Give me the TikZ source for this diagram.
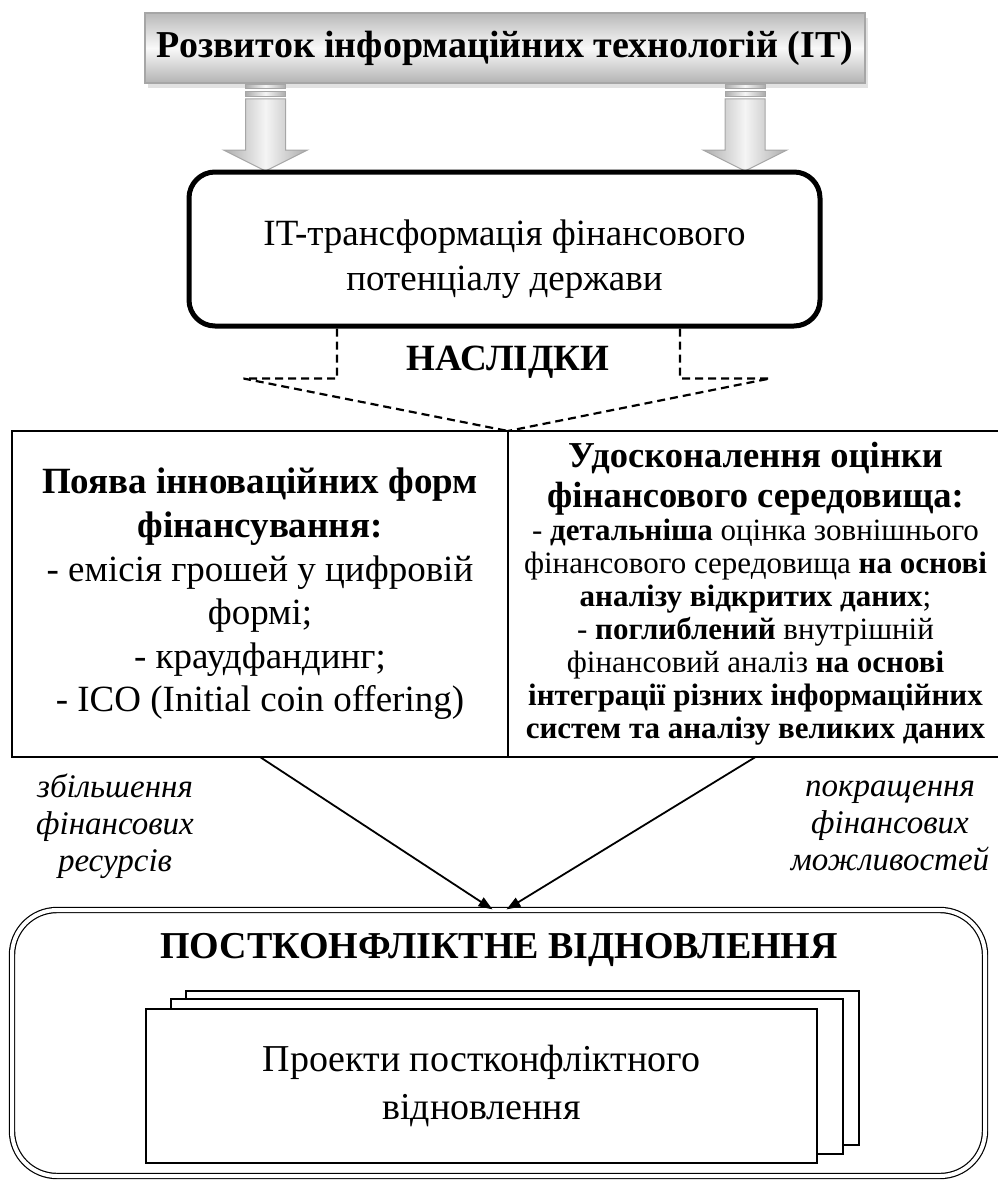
\documentclass[tikz,border=0pt]{standalone}
\usepackage{fontspec}
\setmainfont{Liberation Serif}
\usepackage{tikz}
\usetikzlibrary{positioning}
\usetikzlibrary{shadows}
\usetikzlibrary{arrows.meta}

\begin{document}
\begin{tikzpicture}[x=1pt, y=-1pt,
	titlebox/.style={draw=gray!70, line width=1.5pt, top color=gray!55, bottom color=gray!60, middle color=gray!5,
		drop shadow={shadow xshift=3pt, shadow yshift=-5pt, fill=gray!45},
		minimum width=720pt, minimum height=70pt, font=\bfseries\fontsize{38}{44}\selectfont},
	blockarrow/.style={draw=gray!70, line width=1pt, left color=gray!65, right color=gray!65, middle color=gray!8},
	itbox/.style={draw, line width=5pt, rounded corners=26pt, minimum width=631pt, minimum height=154pt},
	dashline/.style={line width=2.2pt, dash pattern=on 8pt off 5pt},
	cell/.style={line width=2.3pt, inner sep=0pt, outer sep=0pt, minimum height=326pt, align=flush center},
	sidenote/.style={align=center, font=\itshape\fontsize{33}{37}\selectfont},
	link/.style={line width=1.8pt, -{Triangle[length=14pt,width=10pt]}},
	recbox/.style={draw, line width=1.2pt, double, double distance=4pt, rounded corners=45pt,
		minimum width=973pt, minimum height=266pt},
	sheet/.style={draw, fill=white, line width=1.8pt}
]

	\useasboundingbox (0,0) rectangle (997,1180);

	% source of the changes
	\node[titlebox] (itdev) at (505,48) {Розвиток інформаційних технологій (IT)};

	\draw[blockarrow] (245.5,85) rectangle (285.5,89);
	\draw[blockarrow] (245.5,92) rectangle (285.5,97);
	\draw[blockarrow] (245.5,99) -- (285.5,99) -- (285.5,150) -- (307.5,150) -- (265.5,171) -- (223.5,150) -- (245.5,150) -- cycle;
	\draw[blockarrow] (725,85) rectangle (765,89);
	\draw[blockarrow] (725,92) rectangle (765,97);
	\draw[blockarrow] (725,99) -- (765,99) -- (765,150) -- (787,150) -- (745,171) -- (703,150) -- (725,150) -- cycle;

	\node[itbox] (itpot) at (504.5,249) {};
	\node[align=center, font=\fontsize{37}{45}\selectfont] (itpottext) at (504.5,259) {IT-трансформація фінансового\\потенціалу держави};

	\node[font=\bfseries\fontsize{37}{44}\selectfont] (effects) at (508,362) {НАСЛІДКИ};

	% two kinds of consequences
	\node[cell, draw, minimum width=496pt, text width=490pt, font=\fontsize{37}{43.6}\selectfont] (leftcell) at (260,594)
		{\textbf{Поява інноваційних форм}\\\textbf{фінансування:}\\- емісія грошей у цифровій\\формі;\\- краудфандинг;\\- ICO (Initial coin offering)};
	\node[cell, minimum width=495pt, text width=495pt] (rightcell) at (755.5,594)
		{\fontsize{36.5}{40}\selectfont\bfseries Удосконалення оцінки\\фінансового середовища:\par
		 \fontsize{31}{33}\selectfont\mdseries
		 - \textbf{детальніша} оцінка зовнішнього\\фінансового середовища \textbf{на основі}\\\textbf{аналізу відкритих даних};\\
		 - \textbf{поглиблений} внутрішній\\фінансовий аналіз \textbf{на основі}\\\textbf{інтеграції різних інформаційних}\\\textbf{систем та аналізу великих даних}\par};
	\draw[line width=2.3pt] (leftcell.north east) -- (rightcell.north east);
	\draw[line width=2.3pt] (leftcell.south east) -- (rightcell.south east);

	\draw[dashline] ([xshift=-167.5pt]itpot.south) -- ++(0,50) -- ++(-93.5,0) -- (leftcell.north east);
	\draw[dashline] ([xshift=175.5pt]itpot.south) -- ++(0,50) -- ++(90,0) -- (leftcell.north east);

	\node[sidenote] (gainres) at (115,826) {збільшення\\фінансових\\ресурсів};
	\node[sidenote] (gainopp) at (890,826) {покращення\\фінансових\\можливостей};

	% recovery block with stacked project sheets
	\node[recbox] (recovery) at (498.5,1043) {};
	\node[font=\bfseries\fontsize{38}{44}\selectfont] (rectitle) at (499,950) {ПОСТКОНФЛІКТНЕ ВІДНОВЛЕННЯ};
	\draw[sheet] (186,991) rectangle (859,1145);
	\draw[sheet] (171,999) rectangle (843,1154);
	\node[sheet, minimum width=671pt, minimum height=154pt, align=center, font=\fontsize{38}{48}\selectfont] (projects) at (481.5,1086)
		{Проекти постконфліктного\\відновлення};

	\draw[link] (leftcell.south) -- ([xshift=-6pt]recovery.north);
	\draw[link] (rightcell.south) -- ([xshift=8pt]recovery.north);
\end{tikzpicture}
\end{document}
